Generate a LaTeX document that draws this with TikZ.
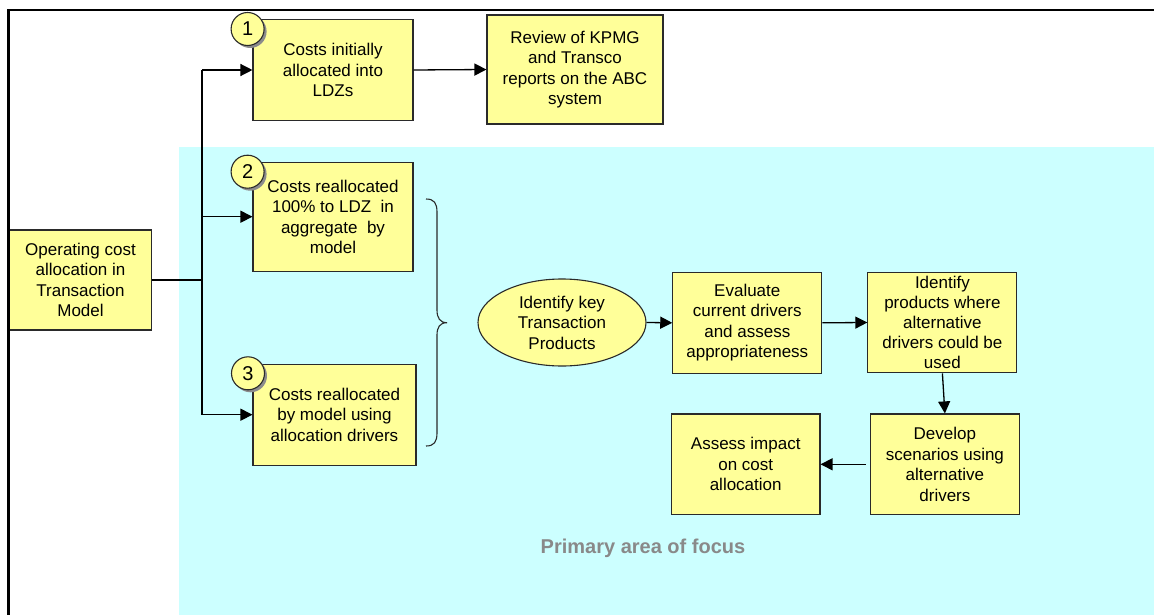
\documentclass[tikz,border=0pt]{standalone}
\usepackage{fontspec}
\setmainfont{Liberation Sans}
\usetikzlibrary{arrows.meta,shapes.geometric,shadows}

\definecolor{focuscyan}{HTML}{CCFFFF}
\definecolor{boxyellow}{HTML}{FFFF99}
\definecolor{edgegray}{HTML}{2A2A2A}
\definecolor{labelgray}{HTML}{898989}

\newcommand\boxfont{\fontsize{17}{20.5}\selectfont}
\newcommand\idfont{\fontsize{17}{20}\selectfont}

\tikzset{
  stepbox/.style={draw=edgegray, line width=1.1pt, fill=boxyellow,
    inner sep=0pt, align=center, font=\boxfont},
  keyoval/.style={ellipse, draw=edgegray, line width=1.1pt, fill=boxyellow,
    inner sep=0pt, align=center, font=\boxfont,
    minimum width=168pt, minimum height=87pt},
  numtag/.style={circle, draw=edgegray, line width=1.1pt, fill=boxyellow,
    minimum size=33pt, inner sep=0pt, font=\fontsize{20}{22}\selectfont,
    drop shadow={shadow xshift=2.5pt, shadow yshift=-2.5pt, fill=black!45, opacity=1}},
  flow/.style={line width=1.3pt, black, -{Triangle[length=12pt,width=12pt]}},
  plain/.style={line width=1.3pt, black},
}

\begin{document}
\begin{tikzpicture}[x=1pt, y=-1pt]
\useasboundingbox (0,0) rectangle (1154,615);

% shaded focus area
\fill[focuscyan] (179,147) rectangle (1154,615);

% source box
\node[stepbox, minimum width=142pt, minimum height=100pt] (src) at (80.5,280)
  {Operating cost\\allocation in\\Transaction\\Model};

% the three allocation routes
\node[stepbox, minimum width=160pt, minimum height=101pt] (r1) at (333,70)
  {Costs initially\\allocated into\\LDZs};
\node[stepbox, minimum width=176pt, minimum height=109pt] (rev) at (575,69.5)
  {Review of KPMG\\and Transco\\reports on the ABC\\system};
\node[stepbox, minimum width=160pt, minimum height=109pt] (r2) at (333,216.7)
  {Costs reallocated\\100\% to LDZ\ \ in\\aggregate\ \ by\\model};
\node[stepbox, minimum width=163pt, minimum height=101pt] (r3) at (334.5,414.7)
  {Costs reallocated\\by model using\\allocation drivers};

\node[numtag] (t1) at (247.6,29) {1};
\node[numtag] (t2) at (247.6,171.7) {2};
\node[numtag] (t3) at (248,373.3) {3};

% branching connector
\coordinate (jtop) at (202,70);
\coordinate (jbot) at (202,414.7);
\draw[plain] (jtop) -- (jbot);
\draw[plain] (src.east) -- (src.east -| jtop);
\draw[flow] (jtop) -- (r1.west);
\draw[flow] (r2.west -| jtop) -- (r2.west);
\draw[flow] (jbot) -- (r3.west);
\draw[flow] (r1.east) -- (rev.west);

% brace grouping routes 2 and 3
\draw[edgegray, line width=1.1pt]
  (426,199) .. controls (434,199) and (437,203) .. (437,212)
  -- (437,310) .. controls (437,318) and (440,322.7) .. (447,322.7)
  .. controls (440,322.7) and (437,327) .. (437,335)
  -- (437,433) .. controls (437,442) and (434,446) .. (426,446);

% analysis steps
\node[keyoval] (key) at (562,322.5) {Identify key\\Transaction\\Products};
\node[stepbox, minimum width=149pt, minimum height=101pt] (eval) at (747.3,322.8)
  {Evaluate\\current drivers\\and assess\\appropriateness};
\node[stepbox, font=\idfont, minimum width=149pt, minimum height=100.5pt] (alt) at (942.4,322.5)
  {Identify\\products where\\alternative\\drivers could be\\used};
\node[stepbox, minimum width=149pt, minimum height=100.7pt] (dev) at (944.9,464.3)
  {Develop\\scenarios using\\alternative\\drivers};
\node[stepbox, minimum width=148.6pt, minimum height=100.7pt] (imp) at (745.7,464.3)
  {Assess impact\\on cost\\allocation};

\draw[flow] (key.east) -- (eval.west);
\draw[flow] (eval.east) -- (alt.west);
\draw[flow] (alt.south) -- (dev.north);
\draw[flow, shorten <=4pt] (dev.west) -- (imp.east);

\node[font=\fontsize{20}{22}\selectfont\bfseries, text=labelgray] (focus) at (643,548)
  {Primary area of focus};

% outer frame (top and left edges)
\draw[black, line width=2.2pt] (8.5,615) -- (8.5,10) -- (1154,10);
\end{tikzpicture}
\end{document}
